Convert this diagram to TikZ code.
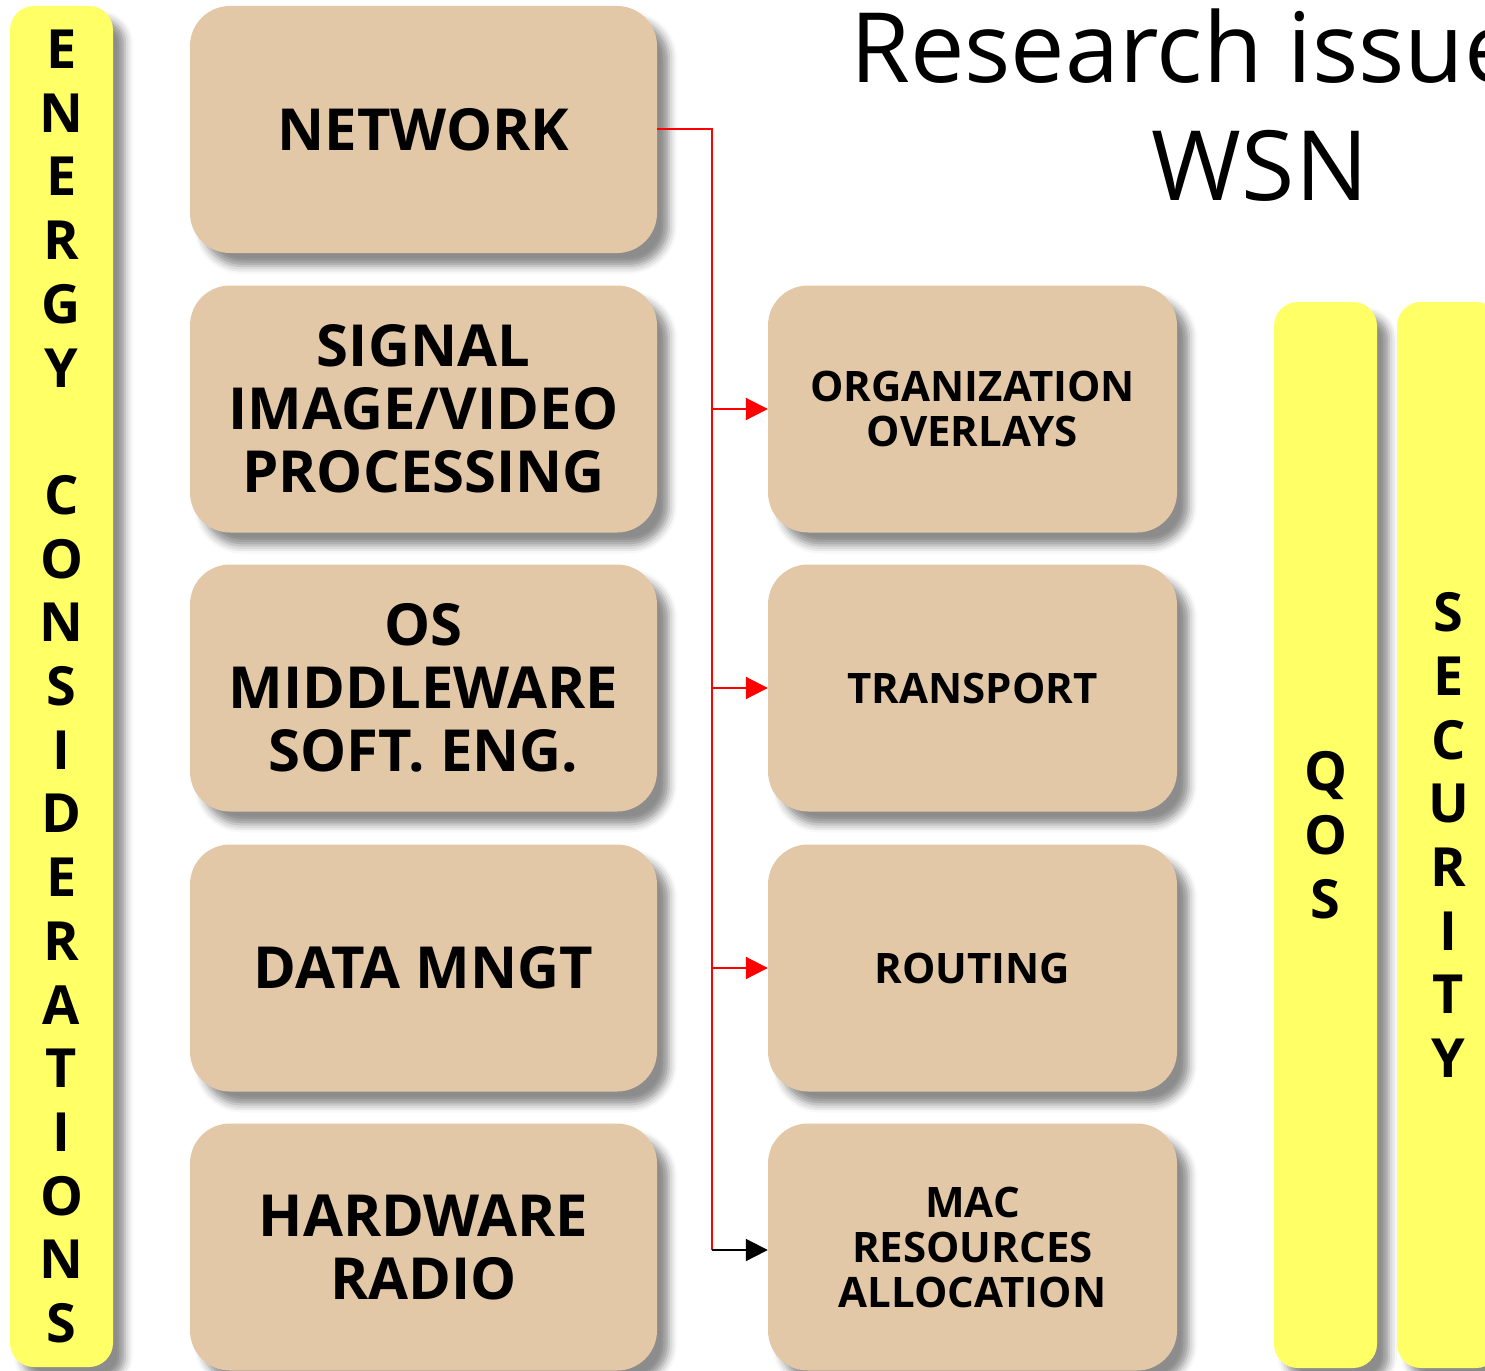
\documentclass[tikz,border=0pt]{standalone}
\usepackage{fontspec}
\setmainfont{Open Sans}
\usetikzlibrary{shadows.blur,arrows.meta}
\definecolor{boxtan}{HTML}{E3C8A7}
\definecolor{hilite}{HTML}{FFFF66}

\begin{document}
\begin{tikzpicture}[x=1pt,y=-1pt,
  softshadow/.style={blur shadow={shadow xshift=12pt, shadow yshift=-13pt, shadow blur radius=8pt, shadow opacity=45}},
  layerbox/.style={rounded corners=40pt, fill=boxtan, minimum width=467pt, minimum height=247pt,
    align=center, inner sep=0pt, softshadow, font=\bfseries\fontsize{58}{63}\selectfont},
  netbox/.style={layerbox, minimum width=409pt, font=\bfseries\fontsize{42}{45}\selectfont},
  bar/.style={rounded corners=24pt, fill=hilite, minimum width=103pt, inner sep=0pt,
    align=center, softshadow, font=\bfseries\fontsize{54}{63.7}\selectfont},
  bus/.style={red, line width=2pt},
  tip/.style={-{Triangle[length=22pt,width=22pt]}}
]
\useasboundingbox (0,0) rectangle (1485,1370);
\clip (0,0) rectangle (1485,1370);

% cross-layer concerns
\node[bar, minimum height=1361pt] (energy) at (61.5,686.5)
  {E\\N\\E\\R\\G\\Y\\[63.7pt]C\\O\\N\\S\\I\\D\\E\\R\\A\\T\\I\\O\\N\\S};
\node[bar, minimum height=1066pt] (qos) at (1325.5,835) {Q\\O\\S};
\node[bar, minimum height=1066pt] (security) at (1448.5,835) {S\\E\\C\\U\\R\\I\\T\\Y};

% left column
\node[layerbox] (network) at (423.5,129.5) {NETWORK};
\node[layerbox] (signal) at (423.5,409) {SIGNAL\\IMAGE/VIDEO\\PROCESSING};
\node[layerbox] (os) at (423.5,688) {OS\\MIDDLEWARE\\SOFT. ENG.};
\node[layerbox] (data) at (423.5,968) {DATA MNGT};
\node[layerbox] (hardware) at (423.5,1247) {HARDWARE\\RADIO};

% network sub-layers
\node[netbox] (org) at (972.5,409) {ORGANIZATION\\OVERLAYS};
\node[netbox] (transport) at (972.5,688) {TRANSPORT};
\node[netbox] (routing) at (972.5,968) {ROUTING};
\node[netbox] (mac) at (972.5,1247) {MAC\\RESOURCES\\ALLOCATION};

% title
\node[anchor=base west, inner sep=0pt, font=\fontsize{97}{100}\selectfont] (title) at (850,83) {Research issues};
\node[anchor=base, inner sep=0pt, font=\fontsize{97}{100}\selectfont] (wsn) at (1260,200) {WSN};

% connectors
\coordinate (busend) at (712,1250);
\draw[bus] (network.east) -| (busend);
\foreach \n in {org,transport,routing}
  \draw[bus, tip] (busend |- \n.west) -- (\n.west);
\draw[black, line width=2pt, tip] (busend) -- (busend -| mac.west);
\end{tikzpicture}
\end{document}
